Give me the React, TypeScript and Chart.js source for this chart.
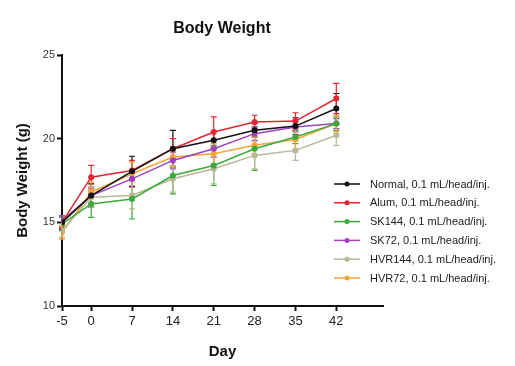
import React, { useEffect, useRef } from "react";
import { Chart, registerables } from "chart.js";

Chart.register(...registerables);

const days = [-5, 0, 7, 14, 21, 28, 35, 42];
const xTickLabels = ["-5", "0", "7", "14", "21", "28", "35", "42"];
const yTickValues = [10, 15, 20, 25];

const seriesNames = [
  "Normal, 0.1 mL/head/inj.",
  "Alum, 0.1 mL/head/inj.",
  "SK144, 0.1 mL/head/inj.",
  "SK72, 0.1 mL/head/inj.",
  "HVR144, 0.1 mL/head/inj.",
  "HVR72, 0.1 mL/head/inj.",
];
const seriesColors = ["#111111", "#e3262f", "#3aaa3a", "#a040c0", "#b8b896", "#f4a536"];

const normal = [15.0, 16.6, 18.05, 19.4, 19.9, 20.5, 20.75, 21.8];
const alum = [15.0, 17.7, 18.1, 19.4, 20.4, 21.0, 21.05, 22.4];
const sk144 = [14.9, 16.1, 16.4, 17.8, 18.4, 19.4, 20.1, 20.9];
const sk72 = [15.1, 16.6, 17.6, 18.7, 19.4, 20.3, 20.7, 20.9];
const hvr144 = [14.5, 16.5, 16.6, 17.6, 18.2, 19.0, 19.3, 20.2];
const hvr72 = [14.4, 16.8, 17.9, 18.9, 19.1, 19.6, 19.95, 20.9];

const normalErr = [0.4, 0.7, 0.9, 1.1, 0.5, 0.4, 0.5, 0.9];
const alumErr = [0.3, 0.7, 0.6, 0.6, 0.9, 0.4, 0.5, 0.9];
const sk144Err = [0.4, 0.8, 1.2, 1.1, 1.2, 1.3, 0.4, 0.4];
const sk72Err = [0.3, 0.5, 0.5, 0.5, 0.5, 0.4, 0.3, 0.3];
const hvr144Err = [0.4, 0.6, 0.8, 0.8, 0.9, 0.8, 0.6, 0.6];
const hvr72Err = [0.4, 0.6, 0.7, 0.6, 0.6, 0.5, 0.6, 0.5];

const seriesValues = [normal, alum, sk144, sk72, hvr144, hvr72];
const seriesErrors = [normalErr, alumErr, sk144Err, sk72Err, hvr144Err, hvr72Err];

const FONT = "'Liberation Sans', Arial, sans-serif";

const errorBarPlugin = {
  id: "errorBars",
  beforeDatasetsDraw(chart: any) {
    const ctx = chart.ctx;
    const yScale = chart.scales.y;
    chart.data.datasets.forEach((ds: any, i: number) => {
      const meta = chart.getDatasetMeta(i);
      const errs = seriesErrors[i];
      ctx.save();
      ctx.strokeStyle = ds.borderColor;
      ctx.lineWidth = 1.2;
      meta.data.forEach((pt: any, j: number) => {
        const v = ds.data[j].y;
        const e = errs[j];
        const yTop = yScale.getPixelForValue(v + e);
        const yBot = yScale.getPixelForValue(v - e);
        const x = pt.x;
        ctx.beginPath();
        ctx.moveTo(x, yTop);
        ctx.lineTo(x, yBot);
        ctx.moveTo(x - 3, yTop);
        ctx.lineTo(x + 3, yTop);
        ctx.moveTo(x - 3, yBot);
        ctx.lineTo(x + 3, yBot);
        ctx.stroke();
      });
      ctx.restore();
    });
  },
};

const titleLegendPlugin = {
  id: "titleLegend",
  afterDraw(chart: any) {
    const ctx = chart.ctx;
    ctx.save();
    ctx.fillStyle = "#111";
    ctx.font = `bold 16px ${FONT}`;
    ctx.textAlign = "center";
    ctx.textBaseline = "middle";
    ctx.fillText("Body Weight", 222, 29);

    ctx.font = `11px ${FONT}`;
    ctx.textAlign = "left";
    seriesNames.forEach((name, i) => {
      const y = 184 + i * 18.8;
      const c = seriesColors[i];
      ctx.strokeStyle = c;
      ctx.lineWidth = 1.5;
      ctx.beginPath();
      ctx.moveTo(334, y);
      ctx.lineTo(360, y);
      ctx.stroke();
      ctx.fillStyle = c;
      ctx.beginPath();
      ctx.arc(347, y, 2.5, 0, Math.PI * 2);
      ctx.fill();
      ctx.fillStyle = "#222";
      ctx.fillText(name, 370, y + 0.5);
    });
    ctx.restore();
  },
};

export default function App() {
  const ref = useRef<HTMLCanvasElement>(null);
  useEffect(() => {
    if (!ref.current) return;
    const datasets = seriesNames.map((name, i) => ({
      label: name,
      data: days.map((d, j) => ({ x: d, y: seriesValues[i][j] })),
      borderColor: seriesColors[i],
      backgroundColor: seriesColors[i],
      borderWidth: 1.5,
      pointRadius: 3,
      pointHoverRadius: 3,
      pointBorderWidth: 0,
      tension: 0,
      fill: false,
    }));
    const chart = new Chart(ref.current, {
      type: "line",
      data: { datasets },
      plugins: [errorBarPlugin, titleLegendPlugin],
      options: {
        animation: false,
        responsive: false,
        devicePixelRatio: 1,
        layout: { padding: { top: 55, right: 132, bottom: 0, left: 0 } },
        plugins: {
          legend: { display: false },
          title: { display: false },
          tooltip: { enabled: false },
        },
        scales: {
          x: {
            type: "linear",
            min: -5,
            max: 50,
            afterFit: (s: any) => {
              s.height = 60;
            },
            afterBuildTicks: (s: any) => {
              s.ticks = days.map((v) => ({ value: v }));
            },
            ticks: {
              autoSkip: false,
              maxRotation: 0,
              padding: 3,
              color: "#222",
              font: { family: FONT, size: 13 },
              callback: (v: any) => {
                const idx = days.indexOf(Number(v));
                return idx >= 0 ? xTickLabels[idx] : "";
              },
            },
            grid: {
              display: true,
              drawOnChartArea: false,
              drawTicks: true,
              tickLength: 5,
              tickColor: "#111",
              tickWidth: 2,
            },
            border: { display: true, color: "#111", width: 2 },
            title: {
              display: true,
              text: "Day",
              color: "#111",
              font: { family: FONT, size: 15, weight: "bold" },
              padding: { top: 0, bottom: 5 },
            },
          },
          y: {
            type: "linear",
            min: 10,
            max: 25,
            afterFit: (s: any) => {
              s.width = 62;
            },
            afterBuildTicks: (s: any) => {
              s.ticks = yTickValues.map((v) => ({ value: v }));
            },
            ticks: {
              padding: 2,
              color: "#333",
              font: { family: FONT, size: 11 },
            },
            grid: {
              display: true,
              drawOnChartArea: false,
              drawTicks: true,
              tickLength: 5,
              tickColor: "#111",
              tickWidth: 2,
            },
            border: { display: true, color: "#111", width: 2 },
            title: {
              display: true,
              text: "Body Weight (g)",
              color: "#111",
              font: { family: FONT, size: 15, weight: "bold" },
              padding: { top: 14, bottom: 0 },
            },
          },
        },
      },
    });
    return () => chart.destroy();
  }, []);
  return (
    <div style={{ position: "absolute", left: 0, top: 0, width: 515, height: 366, background: "#fff" }}>
      <canvas ref={ref} width={515} height={366} style={{ width: 515, height: 366 }} />
    </div>
  );
}
